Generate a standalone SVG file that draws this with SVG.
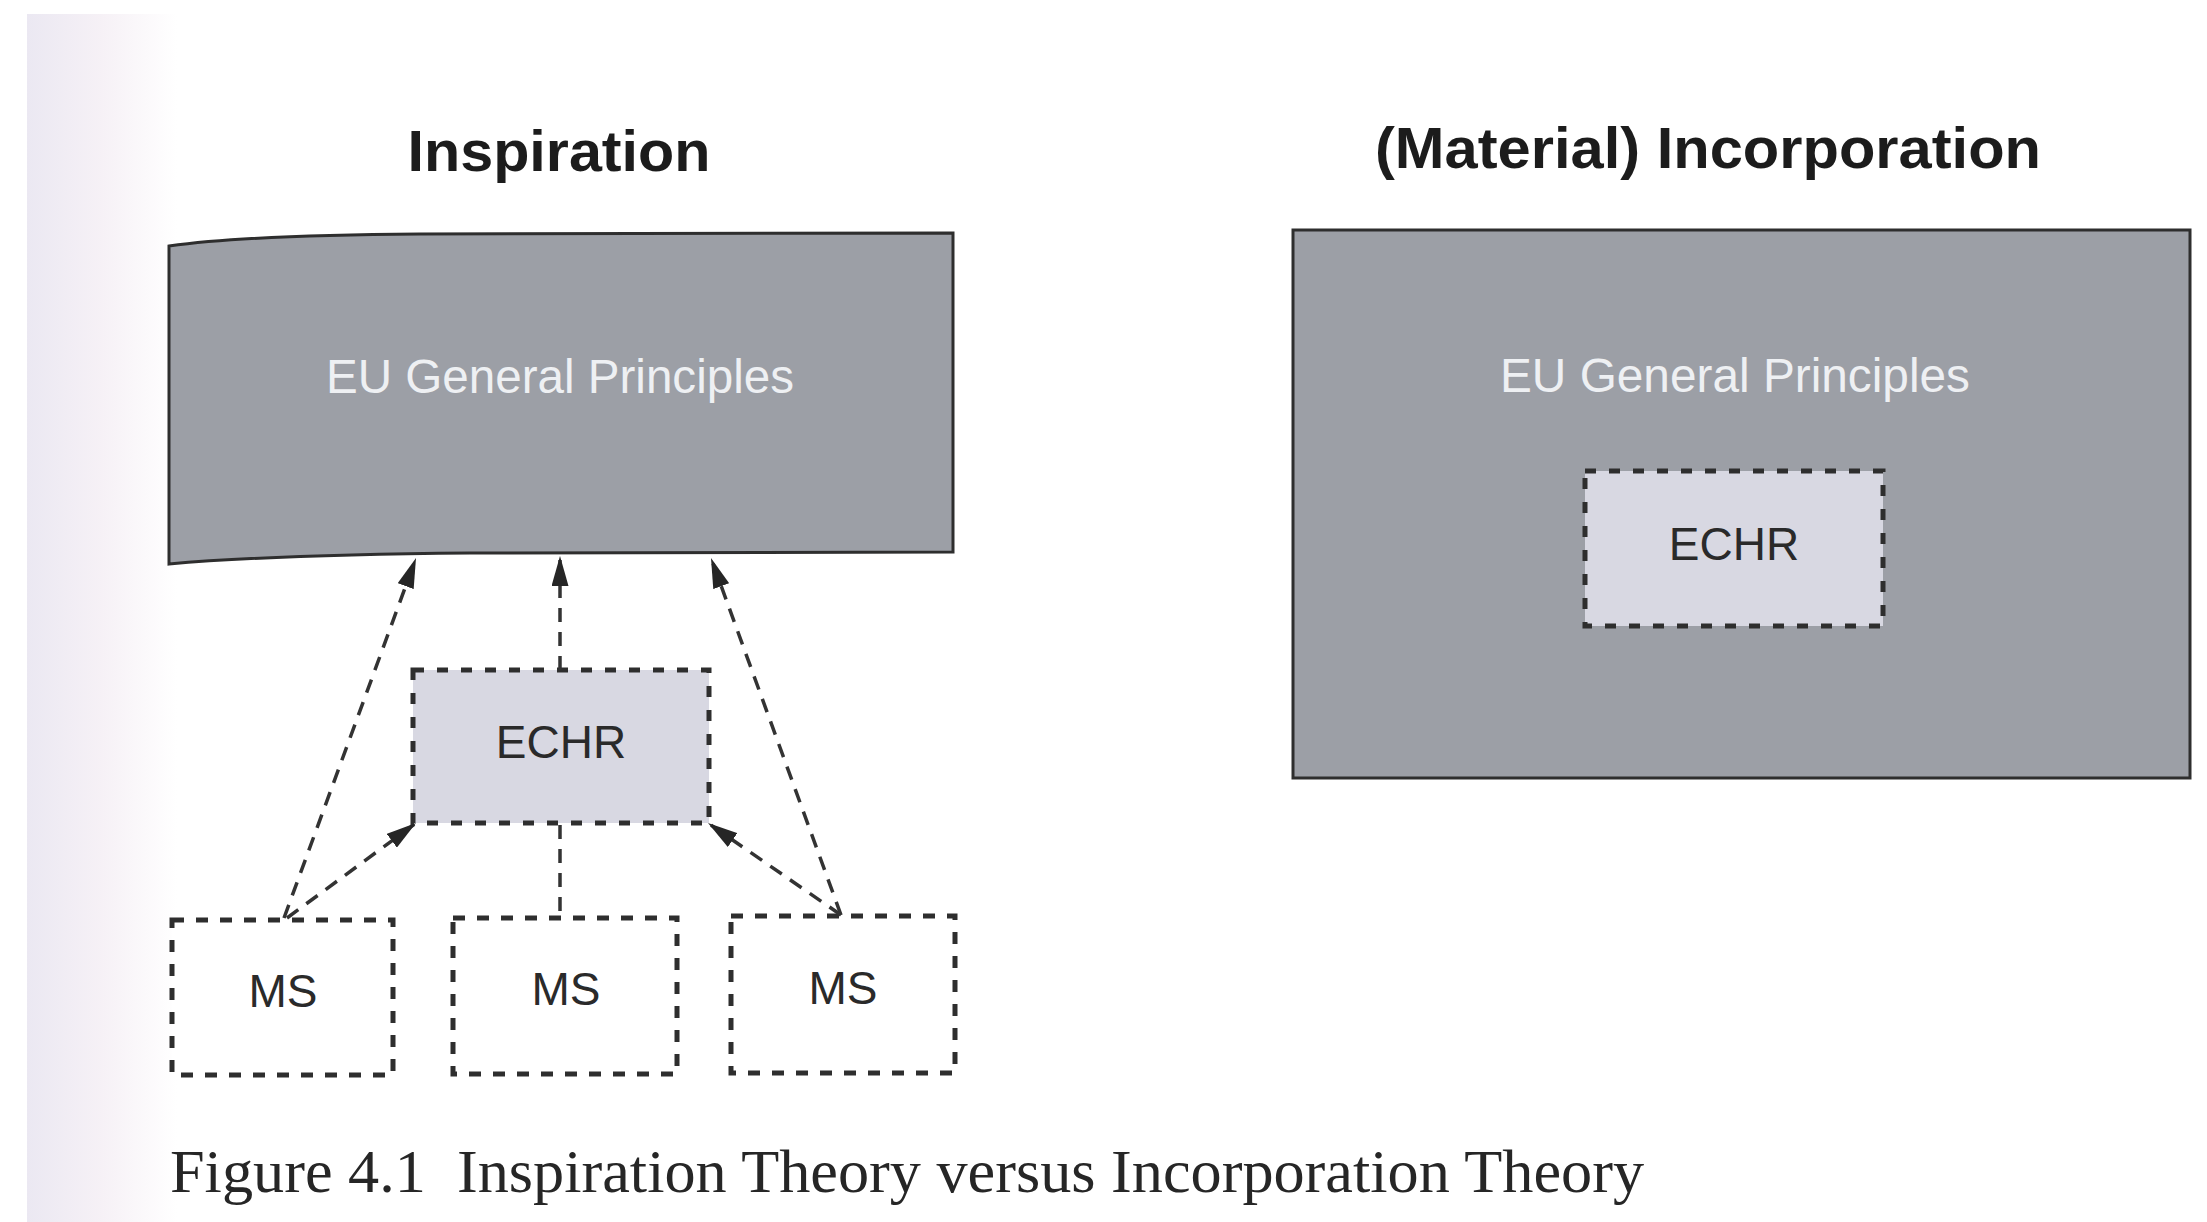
<svg xmlns="http://www.w3.org/2000/svg" width="2207" height="1222" viewBox="0 0 2207 1222">
  <defs>
    <linearGradient id="strip" x1="0" y1="0" x2="1" y2="0">
      <stop offset="0" stop-color="#ebe8f2"/>
      <stop offset="0.5" stop-color="#f6f1f6"/>
      <stop offset="1" stop-color="#ffffff"/>
    </linearGradient>
    <marker id="ah" viewBox="0 0 30 17" refX="30" refY="8.5" markerWidth="30" markerHeight="17" markerUnits="userSpaceOnUse" orient="auto">
      <path d="M0,0 L30,8.5 L0,17 Z" fill="#262626"/>
    </marker>
    <style>
      .title { font-family: "Liberation Sans", Arial, sans-serif; font-weight: bold; font-size: 58px; fill: #1c1c1c; text-anchor: middle; }
      .eu { font-family: "Liberation Sans", Arial, sans-serif; font-size: 48px; fill: #eef0f3; text-anchor: middle; }
      .lbl { font-family: "Liberation Sans", Arial, sans-serif; font-size: 46px; fill: #2a2a2a; text-anchor: middle; }
      .big { fill: #9c9fa6; stroke: #2e2e2e; stroke-width: 3; }
      .echr { fill: #d8d8e2; stroke: #2e2e2e; stroke-width: 5; stroke-dasharray: 11 13; }
      .ms { fill: #ffffff; stroke: #2e2e2e; stroke-width: 5; stroke-dasharray: 12 12; }
      .conn { fill: none; stroke: #333333; stroke-width: 3.5; stroke-dasharray: 14 10; }
      .cap { font-family: "Liberation Serif", "Times New Roman", serif; font-size: 62px; fill: #262626; }
    </style>
  </defs>

  <rect x="0" y="0" width="2207" height="1222" fill="#ffffff"/>
  <rect x="27" y="14" width="150" height="1208" fill="url(#strip)"/>

  <text class="title" x="559" y="171" textLength="303" lengthAdjust="spacingAndGlyphs">Inspiration</text>
  <text class="title" x="1708" y="168" textLength="666" lengthAdjust="spacingAndGlyphs">(Material) Incorporation</text>

  <g id="eu-left">
    <path class="big" d="M169,246 Q250,235 420,234 L953,233 L953,552 L470,553 Q270,555 169,564 Z"/>
    <text class="eu" x="560" y="393" textLength="468" lengthAdjust="spacingAndGlyphs">EU General Principles</text>
  </g>

  <g id="echr-left">
    <rect class="echr" x="413" y="670" width="296" height="153"/>
    <text class="lbl" x="561" y="758">ECHR</text>
  </g>

  <g id="ms1">
    <rect class="ms" x="172" y="920" width="221" height="155"/>
    <text class="lbl" x="283" y="1007">MS</text>
  </g>
  <g id="ms2">
    <rect class="ms" x="453" y="918" width="224" height="156"/>
    <text class="lbl" x="566" y="1005">MS</text>
  </g>
  <g id="ms3">
    <rect class="ms" x="731" y="916" width="224" height="157"/>
    <text class="lbl" x="843" y="1004">MS</text>
  </g>

  <g id="connectors">
    <line class="conn" x1="284" y1="918" x2="416" y2="558" marker-end="url(#ah)"/>
    <line class="conn" x1="287" y1="918" x2="416" y2="823" marker-end="url(#ah)"/>
    <line class="conn" x1="560" y1="670" x2="560" y2="556" marker-end="url(#ah)"/>
    <line class="conn" x1="560" y1="825" x2="560" y2="918"/>
    <line class="conn" x1="841" y1="915" x2="711" y2="558" marker-end="url(#ah)"/>
    <line class="conn" x1="841" y1="915" x2="708" y2="823" marker-end="url(#ah)"/>
  </g>

  <g id="eu-right">
    <rect class="big" x="1293" y="230" width="897" height="548"/>
    <text class="eu" x="1735" y="392" textLength="470" lengthAdjust="spacingAndGlyphs">EU General Principles</text>
  </g>
  <g id="echr-right">
    <rect class="echr" x="1585" y="471" width="298" height="155"/>
    <text class="lbl" x="1734" y="560">ECHR</text>
  </g>

  <text class="cap" x="170" y="1192" textLength="1474" lengthAdjust="spacingAndGlyphs" xml:space="preserve">Figure 4.1  Inspiration Theory versus Incorporation Theory</text>
</svg>
